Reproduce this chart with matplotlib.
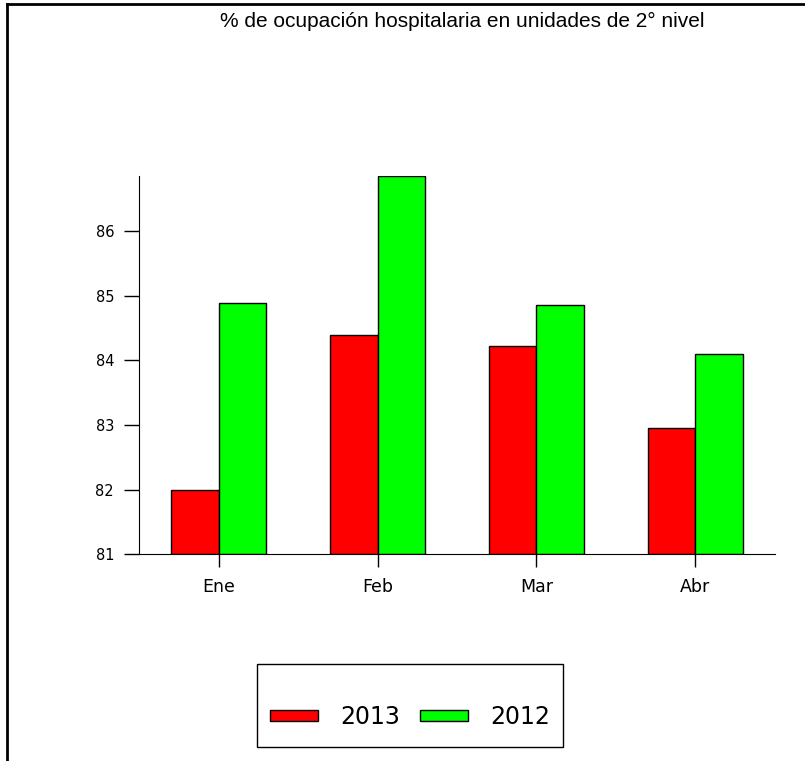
import numpy as np
import matplotlib.pyplot as plt
from matplotlib.patches import Rectangle
from matplotlib.lines import Line2D

meses = ["Ene", "Feb", "Mar", "Abr"]
ocup_2013 = [82.0, 84.39, 84.22, 82.95]
ocup_2012 = [84.89, 86.86, 84.86, 84.10]
yticks = [81, 82, 83, 84, 85, 86]

fig = plt.figure(figsize=(8.05, 7.61), dpi=100)
ax = fig.add_axes([0.1727, 0.272, 0.79, 0.4967])

x = np.arange(len(meses))
w = 0.3
b1 = ax.bar(x - w / 2, np.array(ocup_2013) - 81, w, bottom=81, color="#ff0000", edgecolor="black", lw=1, label="2013")
b2 = ax.bar(x + w / 2, np.array(ocup_2012) - 81, w, bottom=81, color="#00ff00", edgecolor="black", lw=1, label="2012")

ax.set_xlim(-0.5, 3.5)
ax.set_ylim(81, max(ocup_2012))
ax.set_xticks(x)
ax.set_xticklabels(meses, fontsize=12.5)
ax.set_yticks(yticks)
ax.set_yticklabels([str(t) for t in yticks], fontsize=10.5)
ax.tick_params(axis="y", length=11, width=1, pad=7)
ax.tick_params(axis="x", length=9.5, width=1, pad=8)
for s in ["top", "right"]:
    ax.spines[s].set_visible(False)

fig.text(0.574, 0.972, "% de ocupación hospitalaria en unidades de 2° nivel",
         ha="center", va="center", fontsize=15, family="Liberation Sans")

# marco izquierdo y superior
fig.add_artist(Line2D([7 / 805, 7 / 805], [0, 1 - 4 / 761], color="black", lw=2))
fig.add_artist(Line2D([7 / 805, 1], [1 - 4 / 761, 1 - 4 / 761], color="black", lw=2))

# caja de leyenda
fig.add_artist(Rectangle((257 / 805, 1 - 747 / 761), 306 / 805, 83 / 761,
                         transform=fig.transFigure, fill=False, edgecolor="black", lw=1))
fig.legend(handles=[b1, b2], loc="center", bbox_to_anchor=(410 / 805, 1 - 717 / 761),
           ncol=2, frameon=False, fontsize=17, handlelength=2.03, handleheight=0.35,
           columnspacing=0.85, handletextpad=0.93)

fig.savefig("out.png", dpi=100)
